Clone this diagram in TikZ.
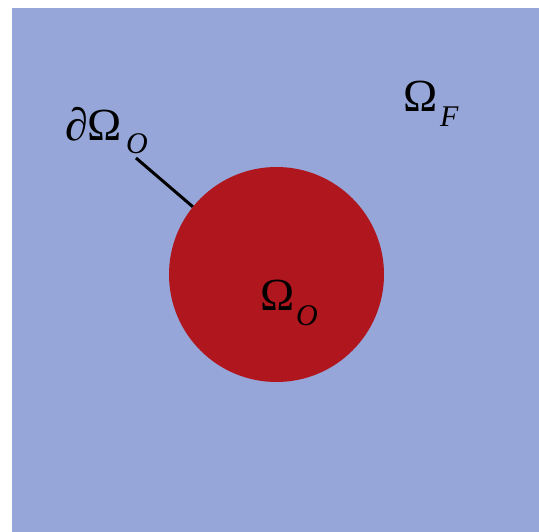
\documentclass[tikz,border=0pt]{standalone}
\usepackage{fontspec}
\setmainfont{Liberation Serif}
\definecolor{fluid}{HTML}{96A6D8}
\definecolor{obst}{HTML}{B0161D}
\begin{document}
\begin{tikzpicture}[x=1pt,y=-1pt,
  lbl/.style={inner sep=0pt,anchor=base west,font=\fontsize{46}{46}\selectfont},
  sub/.style={inner sep=0pt,anchor=base west,font=\fontsize{30}{30}\selectfont\itshape}]
\useasboundingbox (0,0) rectangle (539,532);
\fill[fluid] (12,8) rectangle (539,532);
\node[circle,fill=obst,minimum size=215pt,inner sep=0pt] (O) at (276.5,274.5) {};
\coordinate (s) at (136,158);
\draw[line width=3pt] (s) -- (O.141);
\node[lbl] (dO) at (65,141) {∂Ω};
\node[sub] (dOs) at (126,154) {O};
\node[lbl] (F) at (403,112) {Ω};
\node[sub] (Fs) at (440,127) {F};
\node[lbl] (Oo) at (260,311) {Ω};
\node[sub] (Oos) at (296,326) {O};
\end{tikzpicture}
\end{document}
